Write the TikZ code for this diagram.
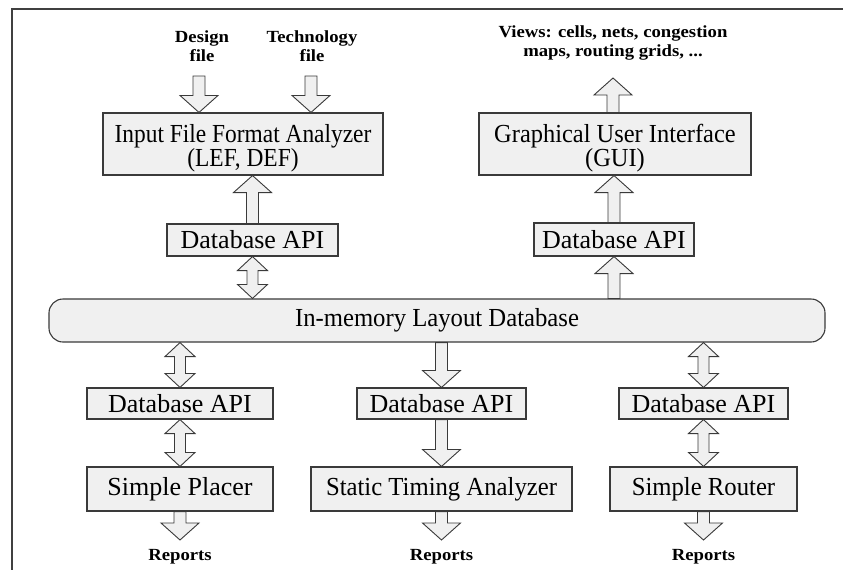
\documentclass[tikz,border=0pt]{standalone}
\usepackage{fontspec}
\setmainfont{Liberation Serif}
\newfontfamily\sfA{Liberation Serif}[FakeStretch=0.90]
\newfontfamily\sfB{Liberation Serif}[FakeStretch=0.94]
\newfontfamily\sfC{Liberation Serif}[FakeStretch=0.95]
\newfontfamily\lblf{Liberation Serif}[FakeStretch=1.1]
\newcommand{\tightlines}{\lineskiplimit=-100pt\lineskip=0pt}
\usetikzlibrary{calc}
\definecolor{boxfill}{HTML}{F0F0F0}
\definecolor{edgec}{HTML}{3A3A3A}
\definecolor{framec}{HTML}{404040}

\tikzset{
  box/.style={draw=edgec, line width=1.1pt, fill=boxfill, inner sep=0pt,
    font={\fontsize{26}{24}\selectfont\tightlines}, align=center},
  boxA/.style={box, font={\sfA\fontsize{26}{24}\selectfont\tightlines}},
  boxB/.style={box, font={\sfB\fontsize{26}{24}\selectfont\tightlines}},
  boxC/.style={box, font={\sfC\fontsize{26}{24}\selectfont\tightlines}},
  lbl/.style={inner sep=0pt, font={\lblf\bfseries\fontsize{17}{19}\selectfont\tightlines}, align=center},
  barrow/.style={draw=edgec, line width=0.9pt, fill=boxfill, line join=miter},
  framel/.style={draw=framec, line width=2pt},
}

% single block arrow from #1 to #2 (head at #2)
\newcommand{\sarr}[2]{%
  \draw[barrow] ($(#1)+(-6pt,0)$) -- ($(#2)!17pt!(#1)+(-6pt,0)$)
    -- ($(#2)!17pt!(#1)+(-19pt,0)$) -- (#2) -- ($(#2)!17pt!(#1)+(19pt,0)$)
    -- ($(#2)!17pt!(#1)+(6pt,0)$) -- ($(#1)+(6pt,0)$) -- cycle;}
% double block arrow between #1 and #2
\newcommand{\darr}[2]{%
  \draw[barrow] (#1) -- ($(#1)!14pt!(#2)+(-15pt,0)$) -- ($(#1)!14pt!(#2)+(-5.5pt,0)$)
    -- ($(#2)!14pt!(#1)+(-5.5pt,0)$) -- ($(#2)!14pt!(#1)+(-15pt,0)$) -- (#2)
    -- ($(#2)!14pt!(#1)+(15pt,0)$) -- ($(#2)!14pt!(#1)+(5.5pt,0)$)
    -- ($(#1)!14pt!(#2)+(5.5pt,0)$) -- ($(#1)!14pt!(#2)+(15pt,0)$) -- cycle;}

\begin{document}
\begin{tikzpicture}[x=1pt, y=-1pt]
\useasboundingbox (0,0) rectangle (843,570);
\fill[white] (0,0) rectangle (843,570);
\draw[framel] (12,572) -- (12,9) -- (845,9);

% top labels
\node[lbl] (design) at (202,46) {Design\\file};
\node[lbl] (tech) at (312,46) {Technology\\file};
\node[lbl] (views) at (613,43) {Views: cells, nets, congestion\\maps, routing grids, ...};

% boxes
\node[boxA, minimum width=280pt, minimum height=62pt] (iff) at (243,144) {\rule{0pt}{26pt}Input File Format Analyzer\\(LEF, DEF)};
\node[boxB, minimum width=272pt, minimum height=62pt] (gui) at (615,144) {\rule{0pt}{26pt}Graphical User Interface\\(GUI)};
\node[box, minimum width=171pt, minimum height=32pt] (dbtl) at (252.5,240) {Database API};
\node[box, minimum width=160pt, minimum height=33pt] (dbtr) at (614,239.5) {Database API};
\node[boxC, minimum width=776pt, minimum height=43pt, rounded corners=14pt] (mem) at (437,320.5) {In-memory Layout Database};
\node[box, minimum width=186pt, minimum height=31pt] (dbl) at (180,403.5) {Database API};
\node[box, minimum width=169pt, minimum height=31pt] (dbm) at (441.5,403.5) {Database API};
\node[box, minimum width=169pt, minimum height=31pt] (dbr) at (703.5,403.5) {Database API};
\node[box, minimum width=186pt, minimum height=44pt] (sp) at (180,489) {Simple Placer};
\node[boxC, minimum width=261pt, minimum height=44pt] (sta) at (441.5,489) {Static Timing Analyzer};
\node[boxC, minimum width=187pt, minimum height=44pt] (sr) at (703.5,489) {Simple Router};

% reports
\node[lbl, anchor=base] (rep1) at (180,560) {Reports};
\node[lbl, anchor=base] (rep2) at (441.5,560) {Reports};
\node[lbl, anchor=base] (rep3) at (703.5,560) {Reports};

% arrow end points
\coordinate (dstart) at (199,76);
\coordinate (tstart) at (311,76);
\coordinate (dend) at (dstart |- iff.north);
\coordinate (tend) at (tstart |- iff.north);
\coordinate (a1) at (dbtl.north |- iff.south);
\coordinate (a2) at (dbtl.south |- mem.north);
\coordinate (vtip) at (613,78);
\coordinate (vbase) at (vtip |- gui.north);
\coordinate (b1) at (dbtr.north |- gui.south);
\coordinate (b2) at (dbtr.south |- mem.north);
\coordinate (c1) at (dbl.north |- mem.south);
\coordinate (c2) at (dbm.north |- mem.south);
\coordinate (c3) at (dbr.north |- mem.south);
\coordinate (r1) at (sp.south |- 0,540);
\coordinate (r2) at (sta.south |- 0,540);
\coordinate (r3) at (sr.south |- 0,540);

% arrows
\sarr{dstart}{dend}
\sarr{tstart}{tend}
\sarr{dbtl.north}{a1}
\darr{dbtl.south}{a2}
\sarr{vbase}{vtip}
\sarr{dbtr.north}{b1}
\sarr{b2}{dbtr.south}
\darr{c1}{dbl.north}
\sarr{c2}{dbm.north}
\darr{c3}{dbr.north}
\darr{dbl.south}{sp.north}
\sarr{dbm.south}{sta.north}
\darr{dbr.south}{sr.north}
\sarr{sp.south}{r1}
\sarr{sta.south}{r2}
\sarr{sr.south}{r3}
\end{tikzpicture}
\end{document}
